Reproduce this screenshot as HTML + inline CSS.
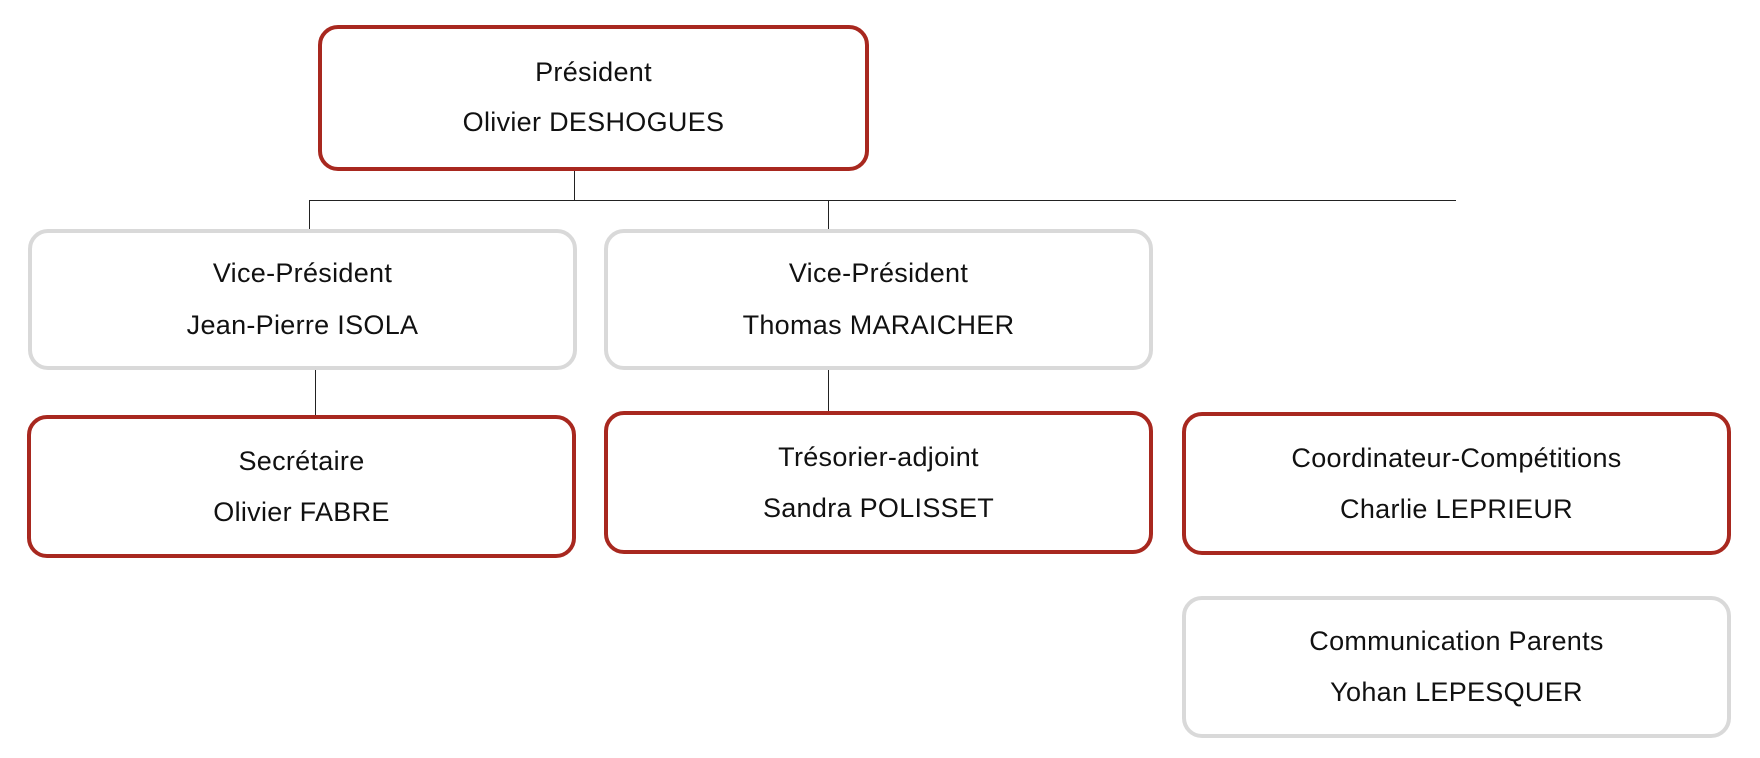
<!DOCTYPE html>
<html><head><meta charset="utf-8"><style>
body{margin:0;width:1760px;height:758px;background:#fff;position:relative;overflow:hidden;font-family:"Liberation Sans","DejaVu Sans",sans-serif;color:#111}
.b{position:absolute;box-sizing:border-box;border-radius:20px;background:#fff;text-align:center;font-size:27px;letter-spacing:0.3px}
.r{border:4px solid #a8281f}
.g{border:4px solid #d9d9d9}
.b div{position:absolute;left:0;right:0;line-height:30px}
.l{position:absolute;background:#222}
</style></head><body>
<div class="l" style="left:574px;top:169px;width:1px;height:32px"></div>
<div class="l" style="left:309px;top:200px;width:1147px;height:1px"></div>
<div class="l" style="left:309px;top:200px;width:1px;height:30px"></div>
<div class="l" style="left:828px;top:200px;width:1px;height:30px"></div>
<div class="l" style="left:315px;top:369px;width:1px;height:46px"></div>
<div class="l" style="left:828px;top:369px;width:1px;height:42px"></div>

<div class="b r" style="left:318px;top:25px;width:551px;height:146px"><div style="top:28px">Président</div><div style="top:78px">Olivier DESHOGUES</div></div>

<div class="b g" style="left:28px;top:229px;width:549px;height:141px"><div style="top:25px">Vice-Président</div><div style="top:77px">Jean-Pierre ISOLA</div></div>
<div class="b g" style="left:604px;top:229px;width:549px;height:141px"><div style="top:25px">Vice-Président</div><div style="top:77px">Thomas MARAICHER</div></div>

<div class="b r" style="left:27px;top:415px;width:549px;height:143px"><div style="top:27px">Secrétaire</div><div style="top:78px">Olivier FABRE</div></div>
<div class="b r" style="left:604px;top:411px;width:549px;height:143px"><div style="top:27px">Trésorier-adjoint</div><div style="top:78px">Sandra POLISSET</div></div>
<div class="b r" style="left:1182px;top:412px;width:549px;height:143px"><div style="top:27px">Coordinateur-Compétitions</div><div style="top:78px">Charlie LEPRIEUR</div></div>
<div class="b g" style="left:1182px;top:596px;width:549px;height:142px"><div style="top:26px">Communication Parents</div><div style="top:77px">Yohan LEPESQUER</div></div>
</body></html>
